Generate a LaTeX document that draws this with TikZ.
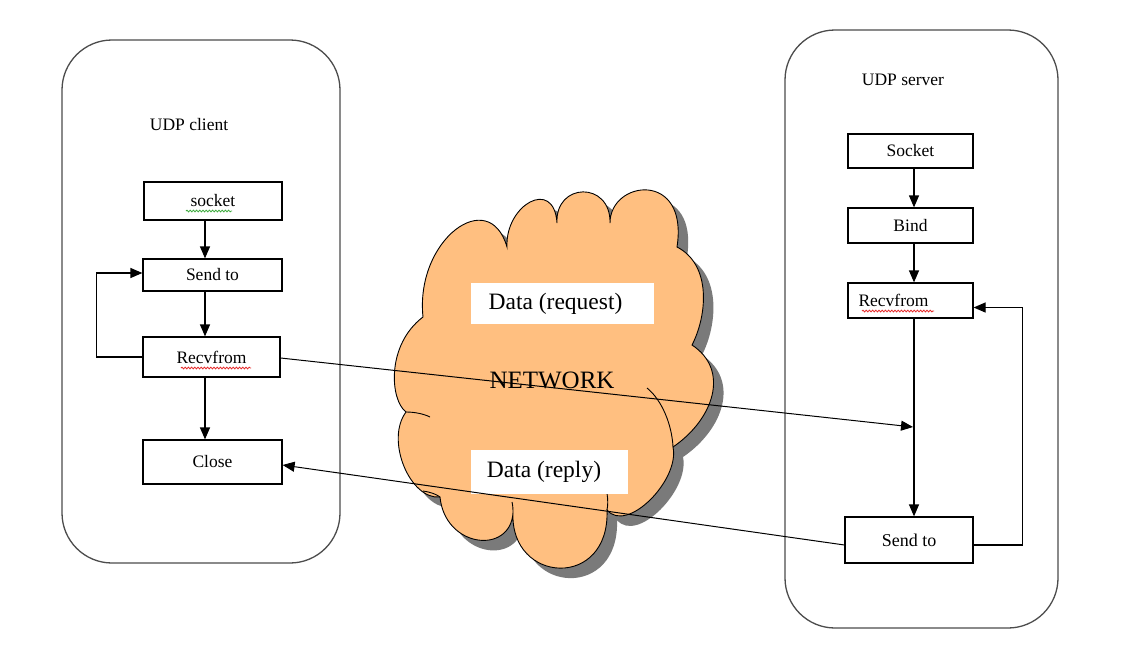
\documentclass[tikz,border=0pt]{standalone}
\usepackage{fontspec}
\setmainfont{Liberation Serif}
\usetikzlibrary{arrows.meta,decorations.pathmorphing}
\definecolor{cloudfill}{RGB}{255,191,128}
\definecolor{wavered}{RGB}{230,40,40}
\definecolor{wavegreen}{RGB}{60,170,60}
\newcommand\mycloudpath{(423,317)
 .. controls (415,240) and (489,185) .. (507,247)
 .. controls (505,205) and (554,177) .. (557,223)
 .. controls (555,182) and (611,181) .. (610,223)
 .. controls (610,180) and (689,170) .. (677,247)
 .. controls (712,265) and (707,316) .. (692,345)
 .. controls (730,370) and (714,419) .. (673,447)
 .. controls (680,480) and (627,534) .. (607,510)
 .. controls (610,590) and (510,584) .. (513,513)
 .. controls (510,555) and (445,548) .. (440,497)
 .. controls (410,500) and (385,440) .. (406,412)
 .. controls (390,400) and (386,345) .. (423,317) -- cycle}
\tikzset{
  container/.style={draw=black!70, line width=1.3pt, rounded corners=50pt, fill=white},
  stepbox/.style={draw, line width=1.2pt, fill=white, font=\fontsize{17.5}{20}\selectfont, inner sep=0pt},
  arr/.style={line width=1.2pt, -{Triangle[length=12pt,width=10pt]}},
  conn/.style={line width=1pt, -{Triangle[length=12pt,width=10pt]}},
  title/.style={font=\fontsize{17.5}{20}\selectfont},
  datalabel/.style={fill=white, font=\fontsize{23.5}{26}\selectfont, inner sep=0pt},
  wavy/.style={line width=0.8pt, decorate, decoration={snake, segment length=3.2pt, amplitude=0.9pt}}
}
\begin{document}
\begin{tikzpicture}[x=1pt,y=-1pt]
\useasboundingbox (0,0) rectangle (1126,645);
\fill[white] (0,0) rectangle (1126,645);

% containers
\node[container, minimum width=278pt, minimum height=523pt] (client) at (201,301.5) {};
\node[container, minimum width=273pt, minimum height=598pt] (server) at (921.5,329) {};
\node[title] (clientlbl) at (189,125) {UDP client};
\node[title] (serverlbl) at (903,80) {UDP server};

% cloud
\fill[black!52, shift={(10,10)}] \mycloudpath;
\filldraw[fill=cloudfill, draw=black, line width=0.9pt] \mycloudpath;
\draw[line width=0.9pt] (647,388) .. controls (662,400) and (672,425) .. (673,447);
\draw[line width=0.9pt] (607,493) .. controls (608,500) and (608,505) .. (607,510);
\draw[line width=0.9pt] (512,502) .. controls (513,506) and (513,510) .. (513,513);
\draw[line width=0.9pt] (423,491) .. controls (430,492) and (436,494) .. (440,497);
\draw[line width=0.9pt] (406,412) .. controls (415,412) and (424,414) .. (430,417);
\node[datalabel, minimum width=183pt, minimum height=41pt] (req) at (562.5,303.5) {\hspace*{-14pt}Data (request)};
\node[datalabel, minimum width=157pt, minimum height=44pt] (rep) at (549.5,472) {\hspace*{-11pt}Data (reply)};
\node[font=\fontsize{25}{28}\selectfont] (net) at (552,380) {NETWORK};

% client steps
\node[stepbox, minimum width=138pt, minimum height=38pt] (csock) at (213,201) {socket};
\node[stepbox, minimum width=139pt, minimum height=32pt] (csend) at (212.5,275) {Send to};
\node[stepbox, minimum width=137pt, minimum height=40pt] (crecv) at (211.5,357) {Recvfrom};
\node[stepbox, minimum width=139pt, minimum height=44pt] (cclose) at (212.5,462) {Close};

% server steps
\node[stepbox, minimum width=125pt, minimum height=34pt] (ssock) at (910.5,151) {Socket};
\node[stepbox, minimum width=125pt, minimum height=35pt] (sbind) at (910.5,225.5) {Bind};
\node[stepbox, minimum width=125pt, minimum height=35pt] (srecv) at (910.5,300.5) {\hspace*{-34pt}Recvfrom};
\node[stepbox, minimum width=128pt, minimum height=46pt, font=\fontsize{18}{20}\selectfont] (ssend) at (909,540) {Send to};

% spell-check underlines
\draw[wavy, wavegreen] (186,211) -- (232,211);
\draw[wavy, wavered] (181,368) -- (251,368);
\draw[wavy, wavered] (862,311) -- (934,311);

% client flow
\coordinate (cx) at (205,0);
\draw[arr] (csock.south -| cx) -- (csend.north -| cx);
\draw[arr] (csend.south -| cx) -- (crecv.north -| cx);
\draw[arr] (crecv.south -| cx) -- (cclose.north -| cx);
\draw[arr] (crecv.west) -- ++(-46,0) |- ([yshift=2pt]csend.west);

% server flow
\coordinate (sx) at (914,0);
\draw[arr] (ssock.south -| sx) -- (sbind.north -| sx);
\draw[arr] (sbind.south -| sx) -- (srecv.north -| sx);
\draw[arr] (srecv.south -| sx) -- (ssend.north -| sx);
\draw[arr] ([yshift=-5pt]ssend.east) -- ++(49,0) |- ([yshift=-7pt]srecv.east);

% network messages
\coordinate (hit) at (913,427);
\draw[conn] ([yshift=-1pt]crecv.east) -- (hit);
\draw[conn] ([yshift=-5pt]ssend.west) -- ([yshift=-3pt]cclose.east);
\end{tikzpicture}
\end{document}
